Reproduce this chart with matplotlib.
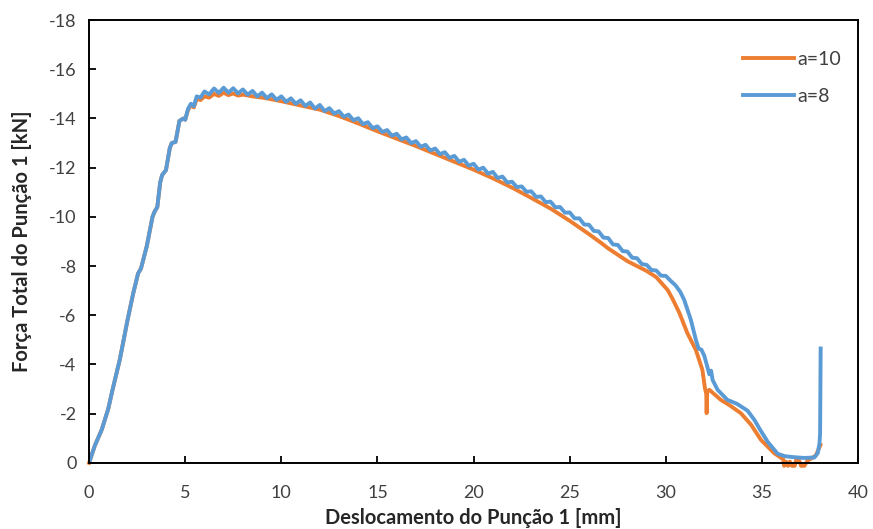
import matplotlib.pyplot as plt

# punch displacement [mm] and total force [kN]
x_a10 = [0.0, 0.3, 0.66, 1.0, 1.2, 1.6, 2.0, 2.3, 2.55, 2.7, 3.0, 3.3, 3.4, 3.55, 3.7, 3.8,
         4.0, 4.2, 4.3, 4.5, 4.7, 4.9, 5.0, 5.15, 5.3, 5.45, 5.6, 5.8,
         6.0, 6.25, 6.5, 6.75, 7.0, 7.25, 7.5, 7.75, 8.0, 8.5, 9.0, 9.5, 10.0, 11.0, 12.0,
         13.0, 14.0, 15.0, 16.0, 17.0, 18.0, 19.0, 20.0, 21.0, 22.0, 23.0, 24.0, 25.0,
         26.0, 26.6, 27.0, 28.0, 29.0, 29.5, 30.09, 30.34, 30.7, 31.12, 31.56, 31.9,
         32.03, 32.1, 32.12, 32.15, 32.26, 32.86, 33.3, 33.9, 34.43, 34.95, 35.64, 36.0,
         36.1, 36.15, 36.25, 36.35, 36.45, 36.55, 36.7, 36.77, 36.9, 37.03, 37.2,
         37.38, 37.6, 37.8, 38.04]
f_a10 = [0.0, -0.7, -1.35, -2.2, -2.9, -4.2, -5.8, -6.9, -7.7, -7.9, -8.8, -10.0, -10.2,
         -10.4, -11.4, -11.7, -11.9, -12.8, -13.0, -13.05, -13.9, -14.0, -13.95, -14.35,
         -14.55, -14.45, -14.8, -14.75,
         -14.9, -14.85, -15.0, -14.92, -15.05, -14.95, -15.02, -14.93, -14.97, -14.9,
         -14.85, -14.78, -14.7, -14.53, -14.36, -14.1, -13.8, -13.48, -13.18, -12.88,
         -12.56, -12.24, -11.92, -11.57, -11.19, -10.77, -10.34, -9.84, -9.3, -8.96, -8.72,
         -8.2, -7.8, -7.55, -7.03, -6.68, -6.1, -5.27, -4.59, -3.78,
         -3.04, -2.8, -2.02, -2.9, -2.97, -2.56, -2.35, -2.02, -1.55, -0.93, -0.39, -0.2,
         -0.15, 0.12, -0.05, 0.12, -0.05, 0.12, 0.12, -0.1, -0.15, 0.12, 0.12,
         -0.1, -0.2, -0.3, -0.73]

x_a8 = [0.0, 0.3, 0.66, 1.0, 1.2, 1.6, 2.0, 2.3, 2.55, 2.7, 3.0, 3.3, 3.4, 3.55, 3.7, 3.8,
        4.0, 4.2, 4.3, 4.5, 4.7, 4.9, 5.0, 5.15, 5.3, 5.45, 5.6, 5.8,
        6.0, 6.25, 6.5, 6.75, 7.0, 7.25, 7.5, 7.75, 8.0, 8.25, 8.5, 8.75, 9.0, 9.25, 9.5,
        9.75, 10.0, 10.25, 10.5, 10.75, 11.0, 11.25, 11.5, 11.75, 12.0, 12.25, 12.5, 12.75,
        13.0, 13.25, 13.5, 13.75, 14.0, 14.25, 14.5, 14.75, 15.0, 15.25, 15.5, 15.75,
        16.0, 16.25, 16.5, 16.75, 17.0, 17.25, 17.5, 17.75, 18.0, 18.25, 18.5, 18.75,
        19.0, 19.25, 19.5, 19.75, 20.0, 20.25, 20.5, 20.75, 21.0, 21.25, 21.5, 21.75,
        22.0, 22.25, 22.5, 22.75, 23.0, 23.25, 23.5, 23.75, 24.0, 24.25, 24.5, 24.75,
        25.0, 25.25, 25.5, 25.75, 26.0, 26.25, 26.5, 26.75, 27.0, 27.25, 27.5, 27.75,
        28.0, 28.25, 28.5, 28.75, 29.0, 29.25, 29.5, 29.75, 30.0, 30.25, 30.5, 30.75,
        30.95, 31.3, 31.56, 31.7, 31.85, 32.0, 32.26, 32.35, 32.43, 32.69, 33.2, 33.7,
        34.25, 34.6, 34.9, 35.3, 35.81, 36.2, 36.68, 37.2, 37.72, 37.9, 37.99, 38.02, 38.05]
f_a8 = [0.0, -0.7, -1.35, -2.2, -2.9, -4.2, -5.8, -6.9, -7.7, -7.9, -8.8, -10.0, -10.2,
        -10.4, -11.4, -11.7, -11.9, -12.8, -13.0, -13.05, -13.9, -14.0, -13.95, -14.4,
        -14.6, -14.5, -14.9, -14.85,
        -15.10, -14.98, -15.22, -15.04, -15.25, -15.05, -15.23, -15.02, -15.18, -14.97,
        -15.12, -14.90, -15.05, -14.83, -14.98, -14.76, -14.90, -14.68, -14.82, -14.60,
        -14.74, -14.51, -14.65, -14.40, -14.55, -14.30, -14.42, -14.20, -14.30, -14.07,
        -14.16, -13.93, -14.01, -13.77, -13.85, -13.61, -13.68, -13.45, -13.53, -13.30,
        -13.38, -13.15, -13.23, -13.00, -13.08, -12.85, -12.93, -12.70, -12.78, -12.55,
        -12.63, -12.40, -12.48, -12.24, -12.32, -12.08, -12.16, -11.92, -12.00, -11.76,
        -11.83, -11.58, -11.64, -11.40, -11.43, -11.21, -11.24, -11.02, -11.04, -10.81,
        -10.83, -10.60, -10.62, -10.39, -10.40, -10.17, -10.18, -9.94, -9.94, -9.69,
        -9.68, -9.43, -9.41, -9.16, -9.14, -8.88, -8.86, -8.61, -8.59, -8.34, -8.32,
        -8.08, -8.05, -7.84, -7.82, -7.61, -7.60, -7.40, -7.22, -6.95,
        -6.63, -5.81, -5.0, -4.65, -4.6, -4.35, -3.6, -3.75, -3.37, -2.97, -2.56, -2.4,
        -2.12, -1.75, -1.35, -0.85, -0.37, -0.27, -0.23, -0.2, -0.22, -0.4, -0.8, -1.2, -4.65]

x_ticks = [0, 5, 10, 15, 20, 25, 30, 35, 40]
y_ticks = [0, -2, -4, -6, -8, -10, -12, -14, -16, -18]

plt.rcParams['font.family'] = ['Lato', 'DejaVu Sans']

fig = plt.figure(figsize=(8.73, 5.29), dpi=100)
ax = fig.add_axes([0.102, 0.125, 0.881, 0.837])

ax.plot(x_a10, f_a10, color='#ED7D31', lw=2.8, label='a=10', clip_on=False,
        solid_joinstyle='round')
ax.plot(x_a8, f_a8, color='#5B9BD5', lw=2.8, label='a=8', solid_joinstyle='round')

ax.set_xlim(0, 40)
ax.set_ylim(0, -18)
ax.set_xticks(x_ticks)
ax.set_yticks(y_ticks)
ax.set_xticklabels([str(t) for t in x_ticks])
ax.set_yticklabels([str(t) for t in y_ticks])
ax.tick_params(direction='in', length=5, width=1.3, labelsize=13, labelcolor='#404040',
               pad=9)
ax.tick_params(axis='x', pad=16)
for s in ax.spines.values():
    s.set_linewidth(1.4)
    s.set_color('black')

ax.set_xlabel('Deslocamento do Punção 1 [mm]', fontsize=14.5, fontweight='bold',
              color='#262626', labelpad=5)
ax.set_ylabel('Força Total do Punção 1 [kN]', fontsize=14.5, fontweight='bold',
              color='#262626', labelpad=12)

ax.legend(loc='upper right', bbox_to_anchor=(1.0, 0.97), frameon=False, fontsize=14,
          handlelength=2.6, handletextpad=0.15, labelspacing=1.05, labelcolor='#404040')

fig.savefig('out.png', dpi=100)
